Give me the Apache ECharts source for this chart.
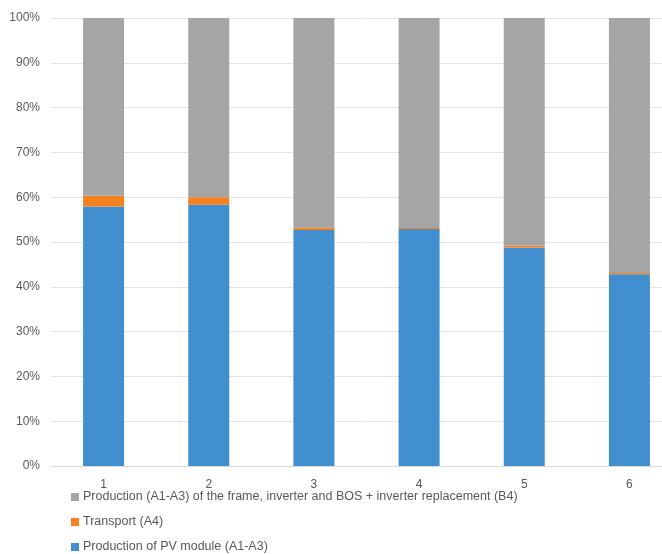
<!DOCTYPE html>
<html>
<head>
<meta charset="utf-8">
<script src="https://cdn.jsdelivr.net/npm/echarts@6/dist/echarts.min.js"></script>
<style>
  html, body { margin: 0; padding: 0; background: #fff; overflow: hidden; }
  /* plot area runs past the right edge in the original, so the canvas is wider than the window */
  #chart { width: 682px; height: 554px; }
</style>
</head>
<body>
<div id="chart"></div>
<script>
// categories on the x axis
const categories = ['1', '2', '3', '4', '5', '6'];
// shares in percent, bottom to top
const pvModule = [57.9, 58.3, 52.7, 52.9, 48.8, 42.8];
const transport = [2.4, 1.7, 0.5, 0.2, 0.4, 0.3];
const frameBos = [39.7, 40.0, 46.8, 46.9, 50.8, 56.9];

const names = {
    pv: 'Production of PV module (A1-A3)',
    tr: 'Transport (A4)',
    bos: 'Production (A1-A3) of the frame, inverter and BOS + inverter replacement (B4)'
};

const font = '"Liberation Sans", sans-serif';
let myChart = echarts.init(document.getElementById('chart'));

function barSeries (name, data, color) {
    return {
        name: name,
        type: 'bar',
        stack: 'total',
        barWidth: 41,
        data: data,
        itemStyle: { color: color },
        emphasis: { disabled: true }
    };
}

let option = {
    animation: false,
    textStyle: { fontFamily: font },
    grid: { left: 51, right: 0, top: 18, bottom: 88, containLabel: false },
    legend: {
        orient: 'vertical',
        left: 66,
        top: 485,
        height: 70,
        itemGap: 11,
        itemWidth: 8,
        itemHeight: 8,
        icon: 'rect',
        data: [names.bos, names.tr, names.pv],
        textStyle: { fontFamily: font, fontSize: 12.5, lineHeight: 14, color: '#595959', padding: [0, 0, 0, -1] }
    },
    xAxis: {
        type: 'category',
        data: categories,
        axisTick: { show: false },
        axisLine: { lineStyle: { color: '#D9D9D9' } },
        axisLabel: { color: '#595959', fontSize: 12, margin: 13, fontFamily: font }
    },
    yAxis: {
        type: 'value',
        min: 0,
        max: 100,
        interval: 10,
        axisLabel: { formatter: '{value}%', color: '#595959', fontSize: 12, margin: 11, fontFamily: font },
        splitLine: { lineStyle: { color: '#E4E4E4' } },
        axisLine: { show: false },
        axisTick: { show: false }
    },
    series: [
        barSeries(names.pv, pvModule, '#418FCE'),
        barSeries(names.tr, transport, '#F5811F'),
        barSeries(names.bos, frameBos, '#A5A5A5')
    ]
};
myChart.setOption(option);
</script>
</body>
</html>
